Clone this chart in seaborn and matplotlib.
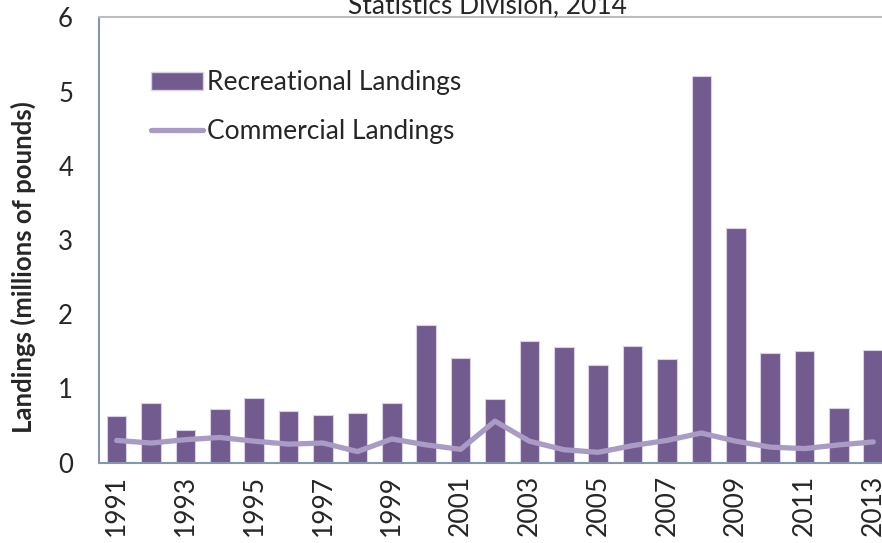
import numpy as np
import pandas as pd
import seaborn as sns
import matplotlib.pyplot as plt
from matplotlib.patches import Patch
from matplotlib.lines import Line2D

years = [str(y) for y in range(1991, 2014)]
recreational = [0.63, 0.80, 0.44, 0.72, 0.875, 0.70, 0.64, 0.67, 0.81, 1.85,
                1.41, 0.86, 1.64, 1.56, 1.31, 1.57, 1.40, 5.21, 3.16, 1.48,
                1.51, 0.74, 1.52]
commercial = [0.30, 0.265, 0.31, 0.34, 0.29, 0.25, 0.265, 0.15, 0.32, 0.24,
              0.18, 0.56, 0.29, 0.175, 0.14, 0.23, 0.30, 0.40, 0.29, 0.21,
              0.19, 0.24, 0.28]

bar_color = "#725B8F"
bar_edge = "#D9D2E6"
line_color = "#A99BC4"
axis_color = "#8497B0"

sns.set_style("white")
plt.rcParams["font.family"] = ["Lato", "DejaVu Sans"]

df = pd.DataFrame({"year": years, "recreational": recreational, "commercial": commercial})

fig = plt.figure(figsize=(8.82, 5.43), dpi=100)
ax = fig.add_axes([0.1128, 0.1479, 0.8968, 0.8199])

sns.barplot(x="year", y="recreational", data=df, color=bar_color, width=0.57,
            edgecolor=bar_edge, linewidth=0.8, saturation=1, ax=ax)
sns.lineplot(x=np.arange(len(years)), y=df["commercial"], color=line_color, lw=3.8,
             solid_joinstyle="round", solid_capstyle="round", ax=ax)

ax.set_xlim(-0.5, len(years) - 0.5)
ax.set_ylim(0, 6)
ax.set_yticks(range(7))

# labels on every other year, tick marks between categories
ax.set_xticks(range(len(years)))
ax.set_xticklabels([y if i % 2 == 0 else "" for i, y in enumerate(years)], rotation=90)
ax.set_xticks(np.arange(-0.5, len(years)), minor=True)
ax.tick_params(axis="x", which="major", length=0, pad=9, labelsize=19)
ax.tick_params(axis="x", which="minor", length=6, width=1.5, color=axis_color, direction="out")
ax.tick_params(axis="y", length=7, width=1.5, color=axis_color, direction="out", pad=12, labelsize=18.5)

for side in ["left", "bottom"]:
    ax.spines[side].set_color(axis_color)
    ax.spines[side].set_linewidth(1.5)
ax.spines["top"].set_color("#BDBDBD")
ax.spines["top"].set_linewidth(1.5)
ax.spines["right"].set_visible(False)

ax.set_xlabel("")
ax.set_ylabel("Landings (millions of pounds)", fontsize=18.5, fontweight="bold")
ax.yaxis.set_label_coords(-0.080, 0.44)

handles = [Patch(facecolor=bar_color, edgecolor=bar_edge),
           Line2D([], [], color=line_color, lw=3.8, solid_capstyle="round")]
ax.legend(handles, ["Recreational Landings", "Commercial Landings"], loc="upper left",
          bbox_to_anchor=(0.0645, 0.882), borderaxespad=0, borderpad=0, frameon=False,
          fontsize=19, handlelength=2.0, handleheight=0.65, handletextpad=0.15,
          labelspacing=0.92)

fig.text(0.553, 1 - 13 / 543, "Statistics Division, 2014", ha="center", va="baseline", fontsize=19)

plt.savefig("out.png", dpi=100)
